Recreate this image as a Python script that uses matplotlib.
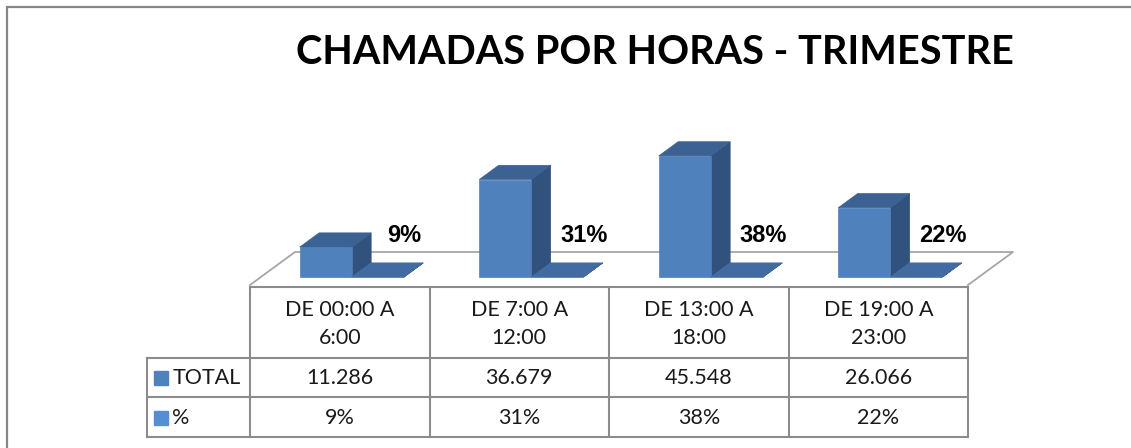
import matplotlib
matplotlib.use('Agg')
import matplotlib.pyplot as plt
from matplotlib.patches import Polygon, Rectangle
from matplotlib.lines import Line2D

# data
categories = ['DE 00:00 A\n6:00', 'DE 7:00 A\n12:00', 'DE 13:00 A\n18:00', 'DE 19:00 A\n23:00']
total = [11286, 36679, 45548, 26066]
pct = [0.09, 0.31, 0.38, 0.22]
total_labels = ['11.286', '36.679', '45.548', '26.066']
pct_labels = ['9%', '31%', '38%', '22%']
title = 'CHAMADAS POR HORAS - TRIMESTRE'

W, H = 1131, 448
fig = plt.figure(figsize=(W / 100, H / 100), dpi=100)

# outer frame
fig.patches.append(Rectangle((7 / W, -0.1), 1.2, 1 - 7 / H + 0.1, transform=fig.transFigure,
                             fill=False, edgecolor='#868686', lw=1.6))

fig.text(655 / W, 1 - 53 / H, title, ha='center', va='center', fontsize=28.5,
         fontweight='bold', family='Lato', color='black')

# plot area (front plane), x in category units, y in value units
x_left, x_right = 250, 968
ymax = 50000
ax = fig.add_axes([x_left / W, 1 - 285 / H, (x_right - x_left) / W, 133 / H])
ax.set_xlim(0, 4)
ax.set_ylim(0, ymax)
ax.axis('off')

col_px = (x_right - x_left) / 4
DX = 45 / col_px            # depth shift in category units
DY = 33 / 133 * ymax        # depth shift in value units


def proj(x, v, d):
    return (x + d * DX, v + d * DY)


# floor outline
floor = [proj(0, 0, 0), proj(0, 0, 1), proj(4, 0, 1), proj(4, 0, 0)]
ax.add_line(Line2D([p[0] for p in floor], [p[1] for p in floor], color='#A6A6A6',
                   lw=1.3, clip_on=False, zorder=1))

d0, d1 = 0.24, 0.67
bw = 0.29
start = 0.217


def bar3d(x0, x1, v, front, top, side):
    pts_front = [proj(x0, 0, d0), proj(x1, 0, d0), proj(x1, v, d0), proj(x0, v, d0)]
    pts_top = [proj(x0, v, d0), proj(x1, v, d0), proj(x1, v, d1), proj(x0, v, d1)]
    pts_side = [proj(x1, 0, d0), proj(x1, 0, d1), proj(x1, v, d1), proj(x1, v, d0)]
    for pts, c in [(pts_side, side), (pts_front, front), (pts_top, top)]:
        ax.add_patch(Polygon(pts, closed=True, facecolor=c, edgecolor=c, lw=0.5,
                             clip_on=False, zorder=3))


for i in range(4):
    xa = i + start
    bar3d(xa, xa + bw, total[i], '#4F81BD', '#3C6293', '#30527C')
    xb = xa + bw
    bar3d(xb, xb + bw, pct[i], '#4B7BB5', '#416BA1', '#34598A')
    ax.text(i + 0.86, 18700, pct_labels[i], ha='center', va='center', fontsize=17,
            fontweight='bold', family='Liberation Sans', color='black', zorder=5)

# data table below, sharing the category x scale
leg_px = 147
tx0 = -(x_left - leg_px) / col_px
tax = fig.add_axes([leg_px / W, 1 - 437 / H, (x_right - leg_px) / W, 150 / H])
tax.set_xlim(tx0, 4)
tax.set_ylim(0, 150)
tax.axis('off')

grid = '#8C8C8C'
rows = [150, 79, 40, 0]   # header / TOTAL / % row boundaries
tax.plot([0, 4], [150, 150], color=grid, lw=1.5, clip_on=False)
for yb in rows[1:]:
    tax.plot([tx0, 4], [yb, yb], color=grid, lw=1.5, clip_on=False)
for xb in range(5):
    tax.plot([xb, xb], [0, 150], color=grid, lw=1.5, clip_on=False)
tax.plot([tx0, tx0], [0, 79], color=grid, lw=1.5, clip_on=False)

font = dict(family='Lato', fontsize=15.5, color='#1A1A1A')
for i in range(4):
    tax.text(i + 0.5, 113, categories[i], ha='center', va='center', linespacing=1.5, **font)
    tax.text(i + 0.5, 59, total_labels[i], ha='center', va='center', **font)
    tax.text(i + 0.5, 19, pct_labels[i], ha='center', va='center', **font)

for yc, name, c in [(59, 'TOTAL', '#4F81BD'), (19, '%', '#558ED5')]:
    tax.plot([tx0 + 0.078], [yc], marker='s', ms=10.5, color=c, clip_on=False)
    tax.text(tx0 + 0.14, yc, name, ha='left', va='center', **font)

fig.savefig('out.png', dpi=100)
